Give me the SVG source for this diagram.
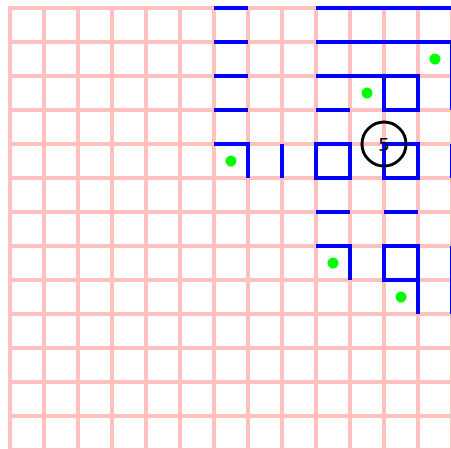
<svg xmlns="http://www.w3.org/2000/svg" width="451" height="449" viewBox="0 0 451 449">
<style>
.grid line{stroke:#ffc0c0;stroke-width:4}
.wall{stroke:#0000ff;stroke-width:4;fill:none;stroke-linejoin:miter}
.dot{fill:#00ff00}
.ring{fill:none;stroke:#000;stroke-width:3}
.lbl{font-family:"DejaVu Sans",sans-serif;font-size:18px;fill:#000;text-anchor:middle}
</style>
<rect width="451" height="449" fill="#fff"/>
<g id="grid" class="grid">
<line x1="10" y1="6" x2="10" y2="449"/>
<line x1="44" y1="6" x2="44" y2="449"/>
<line x1="78" y1="6" x2="78" y2="449"/>
<line x1="112" y1="6" x2="112" y2="449"/>
<line x1="146" y1="6" x2="146" y2="449"/>
<line x1="180" y1="6" x2="180" y2="449"/>
<line x1="214" y1="6" x2="214" y2="449"/>
<line x1="248" y1="6" x2="248" y2="449"/>
<line x1="282" y1="6" x2="282" y2="449"/>
<line x1="316" y1="6" x2="316" y2="449"/>
<line x1="350" y1="6" x2="350" y2="449"/>
<line x1="384" y1="6" x2="384" y2="449"/>
<line x1="418" y1="6" x2="418" y2="449"/>
<line x1="452" y1="6" x2="452" y2="449"/>
<line x1="8" y1="8" x2="451" y2="8"/>
<line x1="8" y1="42" x2="451" y2="42"/>
<line x1="8" y1="76" x2="451" y2="76"/>
<line x1="8" y1="110" x2="451" y2="110"/>
<line x1="8" y1="144" x2="451" y2="144"/>
<line x1="8" y1="178" x2="451" y2="178"/>
<line x1="8" y1="212" x2="451" y2="212"/>
<line x1="8" y1="246" x2="451" y2="246"/>
<line x1="8" y1="280" x2="451" y2="280"/>
<line x1="8" y1="314" x2="451" y2="314"/>
<line x1="8" y1="348" x2="451" y2="348"/>
<line x1="8" y1="382" x2="451" y2="382"/>
<line x1="8" y1="416" x2="451" y2="416"/>
<line x1="8" y1="450" x2="451" y2="450"/>
</g>
<g id="walls" class="wall">
<path d="M214 8H248M316 8H454"/>
<path d="M214 42H248M316 42H452V110"/>
<path d="M214 76H248M316 76H384"/>
<rect x="384" y="76" width="34" height="34"/>
<path d="M214 110H248M316 110H350"/>
<path d="M214 144H248V178"/>
<path d="M282 144V178"/>
<rect x="316" y="144" width="34" height="34"/>
<rect x="384" y="144" width="34" height="34"/>
<path d="M452 144V178"/>
<path d="M316 212H350M384 212H418"/>
<path d="M316 246H350V280"/>
<rect x="384" y="246" width="34" height="34"/>
<path d="M418 280V314"/>
<path d="M452 246V314"/>
</g>
<g id="dots">
<circle class="dot" cx="435" cy="59" r="5.5"/>
<circle class="dot" cx="367" cy="93" r="5.5"/>
<circle class="dot" cx="231" cy="161" r="5.5"/>
<circle class="dot" cx="333" cy="263" r="5.5"/>
<circle class="dot" cx="401" cy="297" r="5.5"/>
</g>
<g id="node5">
<circle class="ring" cx="384" cy="144" r="22"/>
<text class="lbl" x="384" y="150.5">5</text>
</g>
</svg>
